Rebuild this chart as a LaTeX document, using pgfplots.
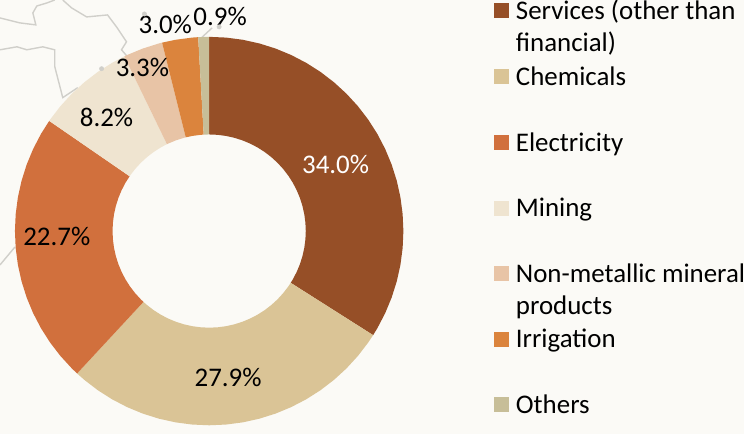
\documentclass[border=0pt]{standalone}
\usepackage{pgfplots}
\pgfplotsset{compat=1.18}
\usepackage{fontspec}
\setmainfont{Carlito}
\definecolor{bg}{HTML}{FBFAF6}
\definecolor{mapl}{HTML}{D0CFCA}
\definecolor{cA}{HTML}{964F27}
\definecolor{cB}{HTML}{DAC496}
\definecolor{cC}{HTML}{D1703D}
\definecolor{cD}{HTML}{EFE4D0}
\definecolor{cE}{HTML}{E8C4A6}
\definecolor{cF}{HTML}{DB843D}
\definecolor{cG}{HTML}{C7BE98}
\newcommand{\ent}[1]{\parbox[t]{232pt}{\fontsize{27}{32}\selectfont #1}}
\begin{document}
\begin{tikzpicture}
\fill[bg] (0,0) rectangle (747pt,436pt);
\begin{axis}[at={(0,0)},anchor=south west,scale only axis,width=747pt,height=436pt,
  xmin=-210,xmax=537,ymin=-204,ymax=232,hide axis,clip=true,
  legend cell align=left,
  legend style={at={(axis cs:286,232)},anchor=north west,draw=none,fill=none,inner sep=0pt,outer sep=0pt,
    nodes={inner sep=0pt,outer sep=0pt},column sep=7pt,row sep=45.7pt,
    font=\fontsize{27}{32}\selectfont},
  legend image code/.code={\fill[#1] (0pt,-7.5pt) rectangle (15pt,7.5pt);}
]
% faint map outlines behind the chart
\addplot[mapl,line width=1.4pt,forget plot] coordinates {(-210,214)(-190,209)(-174,207)(-177,219)(-173,226)(-163,229)(-155,232)};
\addplot[mapl,line width=1.4pt,forget plot] coordinates {(-147,232)(-138,224)(-123,215)(-102,217)(-93,205)(-83,190)(-88,182)(-82,175)};
\addplot[mapl,line width=1.4pt,forget plot] coordinates {(-210,182)(-193,185)(-183,182)(-167,185)(-155,182)(-155,165)(-147,134)(-132,144)};
\addplot[mapl,line width=1.4pt,forget plot] coordinates {(-10,192)(3,204)};
\addplot[mapl,line width=1.4pt,forget plot] coordinates {(-210,-34)(-195,-16)};
\addplot[only marks,mark=*,mark size=2.2pt,mapl,forget plot] coordinates {(-65,218)(-108,163)(10,205)};
% wedges: (angle, radius)
\addplot[fill=cA,draw=none,no markers,data cs=polar] coordinates {(90,195)(85,195)(80,195)(75,195)(70,195)(65,195)(60,195)(55,195)(50,195)(45,195)(40,195)(35,195)(30,195)(25,195)(20,195)(15,195)(10,195)(5,195)(0,195)(-5,195)(-10,195)(-15,195)(-20,195)(-25,195)(-30,195)(-32.4,195)
 (-32.4,97)(-30,97)(-25,97)(-20,97)(-15,97)(-10,97)(-5,97)(0,97)(5,97)(10,97)(15,97)(20,97)(25,97)(30,97)(35,97)(40,97)(45,97)(50,97)(55,97)(60,97)(65,97)(70,97)(75,97)(80,97)(85,97)(90,97)};
\addlegendentry{\ent{Services (other than\\financial)}}
\addplot[fill=cB,draw=none,no markers,data cs=polar] coordinates {(-32.4,195)(-35,195)(-40,195)(-45,195)(-50,195)(-55,195)(-60,195)(-65,195)(-70,195)(-75,195)(-80,195)(-85,195)(-90,195)(-95,195)(-100,195)(-105,195)(-110,195)(-115,195)(-120,195)(-125,195)(-130,195)(-132.84,195)
 (-132.84,97)(-130,97)(-125,97)(-120,97)(-115,97)(-110,97)(-105,97)(-100,97)(-95,97)(-90,97)(-85,97)(-80,97)(-75,97)(-70,97)(-65,97)(-60,97)(-55,97)(-50,97)(-45,97)(-40,97)(-35,97)(-32.4,97)};
\addlegendentry{\ent{Chemicals}}
\addplot[fill=cC,draw=none,no markers,data cs=polar] coordinates {(-132.84,195)(-135,195)(-140,195)(-145,195)(-150,195)(-155,195)(-160,195)(-165,195)(-170,195)(-175,195)(-180,195)(-185,195)(-190,195)(-195,195)(-200,195)(-205,195)(-210,195)(-214.56,195)
 (-214.56,97)(-210,97)(-205,97)(-200,97)(-195,97)(-190,97)(-185,97)(-180,97)(-175,97)(-170,97)(-165,97)(-160,97)(-155,97)(-150,97)(-145,97)(-140,97)(-135,97)(-132.84,97)};
\addlegendentry{\ent{Electricity}}
\addplot[fill=cD,draw=none,no markers,data cs=polar] coordinates {(-214.56,195)(-215,195)(-220,195)(-225,195)(-230,195)(-235,195)(-240,195)(-244.08,195)
 (-244.08,97)(-240,97)(-235,97)(-230,97)(-225,97)(-220,97)(-215,97)(-214.56,97)};
\addlegendentry{\ent{Mining}}
\addplot[fill=cE,draw=none,no markers,data cs=polar] coordinates {(-244.08,195)(-245,195)(-250,195)(-255,195)(-255.96,195)
 (-255.96,97)(-255,97)(-250,97)(-245,97)(-244.08,97)};
\addlegendentry{\ent{Non-metallic mineral\\products}}
\addplot[fill=cF,draw=none,no markers,data cs=polar] coordinates {(-255.96,195)(-260,195)(-265,195)(-266.76,195)
 (-266.76,97)(-265,97)(-260,97)(-255.96,97)};
\addlegendentry{\ent{Irrigation}}
\addplot[fill=cG,draw=none,no markers,data cs=polar] coordinates {(-266.76,195)(-270,195)(-270,97)(-266.76,97)};
\addlegendentry{\ent{Others}}
% data labels
\begin{scope}[every node/.style={font=\fontsize{27}{30}\selectfont,inner sep=0pt}]
\node[white] at (axis cs:127,67) {34.0\%};
\node at (axis cs:19,-147) {27.9\%};
\node at (axis cs:-153,-5) {22.7\%};
\node at (axis cs:-103,114) {8.2\%};
\node at (axis cs:-67,164) {3.3\%};
\node at (axis cs:-44,207) {3.0\%};
\node at (axis cs:11,215) {0.9\%};
\end{scope}
\end{axis}
\end{tikzpicture}
\end{document}
